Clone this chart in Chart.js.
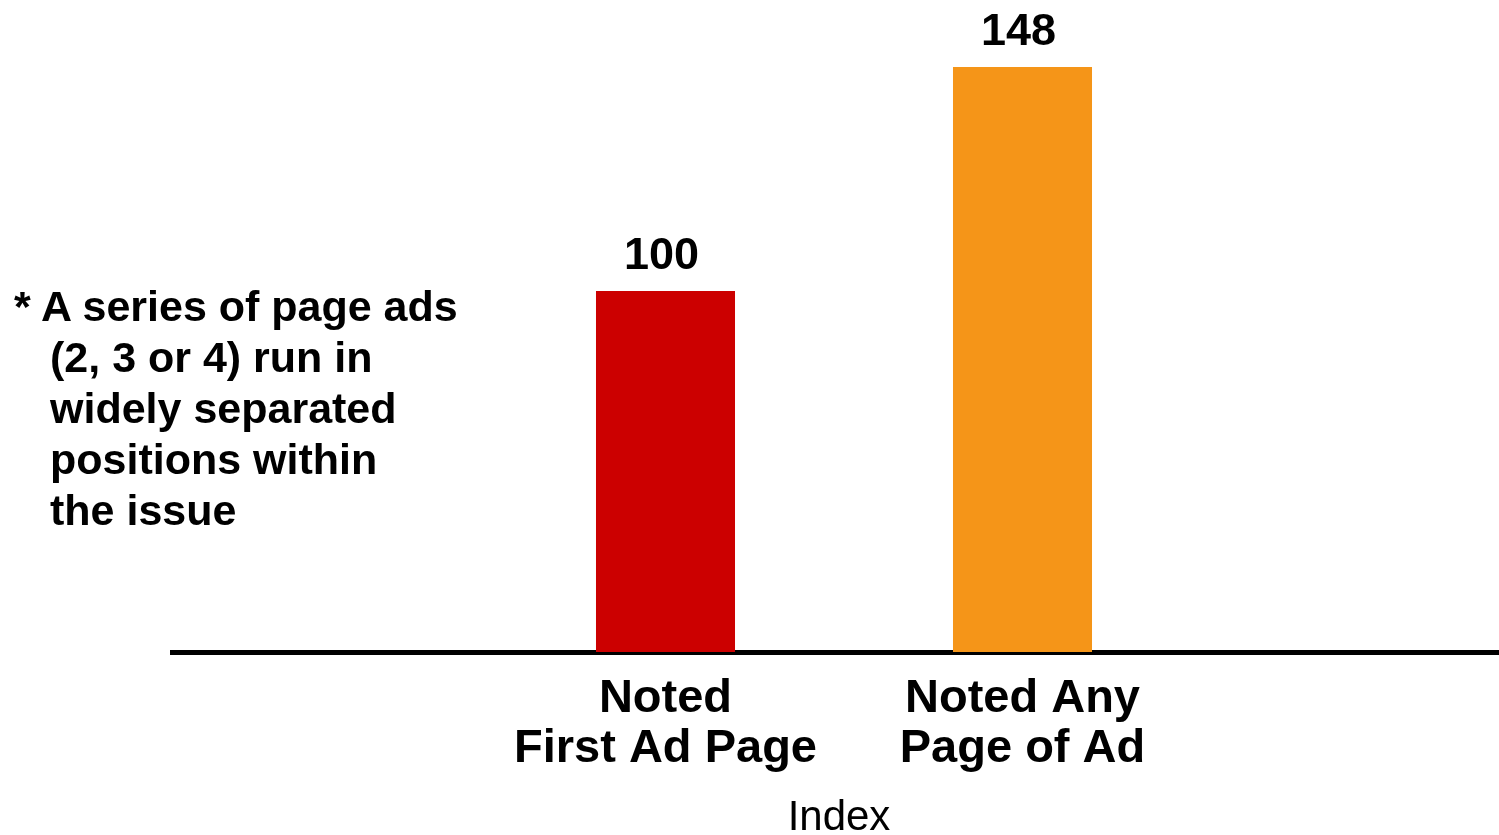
<!DOCTYPE html>
<html>
<head>
<meta charset="utf-8">
<title>Index</title>
<script src="https://cdn.jsdelivr.net/npm/chart.js@4/dist/chart.umd.min.js"></script>
<style>
  html, body {
    margin: 0;
    padding: 0;
    background: #ffffff;
    overflow: hidden;
  }
  #wrap {
    position: relative;
    width: 1516px;
    height: 835px;
  }
  #note {
    position: absolute;
    left: 14px;
    top: 281px;
    font-family: "Liberation Sans", Arial, sans-serif;
    font-weight: bold;
    font-size: 43px;
    line-height: 51px;
    color: #000000;
    white-space: nowrap;
  }
  #note .indent {
    padding-left: 36px;
  }
</style>
</head>
<body>
<div id="wrap">
  <canvas id="indexChart"></canvas>
  <div id="note"></div>
</div>
<script>
  const categories = ["Index"];
  const seriesNames = [
    ["Noted", "First Ad Page"],
    ["Noted Any", "Page of Ad"],
  ];
  const seriesValues = [100, 148];
  const seriesColors = ["#cc0000", "#f59518"];
  const noteLines = [
    "* A series of page ads",
    "(2, 3 or 4) run in",
    "widely separated",
    "positions within",
    "the issue",
  ];

  const fontFamily = '"Liberation Sans", Arial, sans-serif';

  // footnote on the left
  const note = document.getElementById("note");
  noteLines.forEach((line, i) => {
    const el = document.createElement("div");
    el.textContent = line;
    if (i > 0) el.className = "indent";
    note.appendChild(el);
  });

  // value above each bar
  const valueLabels = {
    id: "valueLabels",
    afterDatasetsDraw(chart) {
      const ctx = chart.ctx;
      ctx.save();
      ctx.font = "bold 45px " + fontFamily;
      ctx.fillStyle = "#000000";
      ctx.textAlign = "center";
      ctx.textBaseline = "alphabetic";
      chart.data.datasets.forEach((ds, i) => {
        const bar = chart.getDatasetMeta(i).data[0];
        ctx.fillText(String(ds.data[0]), bar.x - 4, bar.y - 22);
      });
      ctx.restore();
    },
  };

  // series name under each bar
  const seriesLabels = {
    id: "seriesLabels",
    afterDraw(chart) {
      const ctx = chart.ctx;
      const bottom = chart.chartArea.bottom;
      ctx.save();
      ctx.font = "bold 47px " + fontFamily;
      ctx.fillStyle = "#000000";
      ctx.textAlign = "center";
      ctx.textBaseline = "alphabetic";
      seriesNames.forEach((lines, i) => {
        const bar = chart.getDatasetMeta(i).data[0];
        lines.forEach((line, j) => {
          ctx.fillText(line, bar.x, bottom + 60 + j * 50);
        });
      });
      ctx.restore();
    },
  };

  const datasets = seriesValues.map((value, i) => ({
    label: seriesNames[i].join(" "),
    data: [value],
    backgroundColor: seriesColors[i],
    borderWidth: 0,
    categoryPercentage: 0.53125,
    barPercentage: 0.3894,
  }));

  new Chart(document.getElementById("indexChart"), {
    type: "bar",
    data: {
      labels: categories,
      datasets: datasets,
    },
    plugins: [valueLabels, seriesLabels],
    options: {
      responsive: true,
      maintainAspectRatio: false,
      animation: false,
      layout: {
        padding: { left: 172, right: 0, top: 11, bottom: 0 },
      },
      plugins: {
        legend: { display: false },
        tooltip: { enabled: false },
      },
      scales: {
        x: {
          z: 1,
          grid: { display: false, drawTicks: false },
          border: { display: true, color: "#000000", width: 5 },
          ticks: {
            padding: 141,
            labelOffset: -5,
            color: "#000000",
            font: { family: fontFamily, size: 42, weight: "normal" },
          },
          afterFit(scale) {
            scale.height = 183;
          },
        },
        y: {
          display: false,
          min: 22.6,
          max: 160,
        },
      },
    },
  });
</script>
</body>
</html>
